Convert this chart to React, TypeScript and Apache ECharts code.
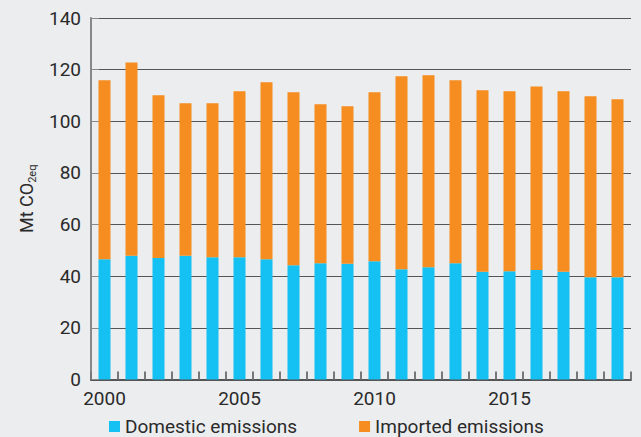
import React, { useEffect, useRef } from "react";
import * as echarts from "echarts";

const years = [
  "2000", "2001", "2002", "2003", "2004", "2005", "2006", "2007", "2008", "2009",
  "2010", "2011", "2012", "2013", "2014", "2015", "2016", "2017", "2018", "2019",
];
const domestic = [
  46.6, 47.9, 47.1, 47.9, 47.3, 47.3, 46.6, 44.2, 45.0, 44.8,
  45.8, 42.7, 43.5, 45.0, 41.7, 41.9, 42.4, 41.7, 39.6, 39.6,
];
const imported = [
  69.3, 74.9, 63.0, 59.1, 59.7, 64.3, 68.5, 67.0, 61.6, 61.0,
  65.4, 74.7, 74.3, 70.9, 70.3, 69.7, 71.1, 69.9, 70.1, 68.9,
];
const seriesNames = ["Domestic emissions", "Imported emissions"];

const FONT = "Roboto, 'Noto Sans', sans-serif";
const TEXT = "#2a2a2a";

export default function App() {
  const ref = useRef<HTMLDivElement>(null);
  useEffect(() => {
    if (!ref.current) return;
    const chart = echarts.init(ref.current, null, { renderer: "svg" });
    chart.setOption({
      animation: false,
      backgroundColor: "#ECEDEF",
      textStyle: { fontFamily: FONT },
      grid: { left: 91, right: 10, top: 18, bottom: 57.5, containLabel: false },
      legend: {
        left: 104,
        top: 412,
        itemWidth: 11,
        itemHeight: 11,
        itemGap: 62,
        icon: "rect",
        textStyle: { fontSize: 19, color: TEXT, fontFamily: FONT },
        data: seriesNames,
      },
      xAxis: {
        type: "category",
        data: years,
        boundaryGap: true,
        axisLine: { lineStyle: { color: "#555", width: 2 } },
        axisTick: { show: true, inside: true, length: 8, interval: 0, lineStyle: { color: "#777", width: 2 } },
        axisLabel: { interval: 4, fontSize: 19, color: TEXT, margin: 9, fontFamily: FONT },
        splitLine: { show: false },
      },
      yAxis: {
        type: "value",
        min: 0,
        max: 140,
        interval: 20,
        name: "{a|Mt CO}{b|2eq}",
        nameLocation: "middle",
        nameRotate: 90,
        nameGap: 55,
        nameTextStyle: {
          color: TEXT,
          fontFamily: FONT,
          rich: {
            a: { fontSize: 18, color: TEXT, fontFamily: FONT, lineHeight: 20, verticalAlign: "bottom" },
            b: { fontSize: 11, color: TEXT, fontFamily: FONT, verticalAlign: "bottom", padding: [0, 0, -3, 0] },
          },
        },
        axisLine: { show: true, lineStyle: { color: "#888", width: 2 } },
        axisTick: { show: true, inside: true, length: 8, lineStyle: { color: "#888", width: 1 } },
        axisLabel: { fontSize: 19, color: TEXT, margin: 10, fontFamily: FONT },
        splitLine: { show: true, lineStyle: { color: "#555", width: 1 } },
      },
      series: [
        {
          name: seriesNames[0],
          type: "bar",
          stack: "total",
          data: domestic,
          barWidth: 12,
          itemStyle: { color: "#15C0F2" },
        },
        {
          name: seriesNames[1],
          type: "bar",
          stack: "total",
          data: imported,
          barWidth: 12,
          itemStyle: { color: "#F68D21" },
        },
      ],
    });
    return () => chart.dispose();
  }, []);
  return <div ref={ref} style={{ width: 641, height: 437, position: "absolute", left: 0, top: 0 }} />;
}
